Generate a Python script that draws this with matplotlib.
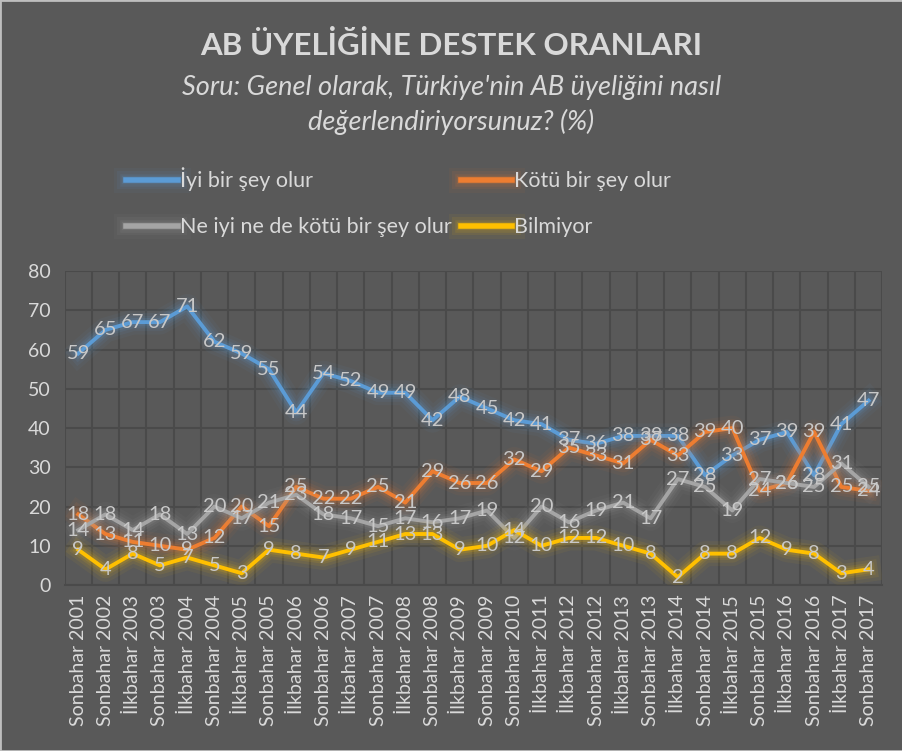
import matplotlib
matplotlib.use("Agg")
import matplotlib.pyplot as plt
import matplotlib.patheffects as pe
from matplotlib.patches import Rectangle

plt.rcParams['font.family'] = ['Lato', 'DejaVu Sans']

donemler = ["Sonbahar 2001", "Sonbahar 2002", "İlkbahar 2003", "Sonbahar 2003",
            "İlkbahar 2004", "Sonbahar 2004", "İlkbahar 2005", "Sonbahar 2005",
            "İlkbahar 2006", "Sonbahar 2006", "İlkbahar 2007", "Sonbahar 2007",
            "İlkbahar 2008", "Sonbahar 2008", "İlkbahar 2009", "Sonbahar 2009",
            "Sonbahar 2010", "İlkbahar 2011", "İlkbahar 2012", "Sonbahar 2012",
            "İlkbahar 2013", "Sonbahar 2013", "İlkbahar 2014", "Sonbahar 2014",
            "İlkbahar 2015", "Sonbahar 2015", "İlkbahar 2016", "Sonbahar 2016",
            "İlkbahar 2017", "Sonbahar 2017"]

iyi = [59, 65, 67, 67, 71, 62, 59, 55, 44, 54, 52, 49, 49, 42, 48, 45, 42, 41,
       37, 36, 38, 38, 38, 28, 33, 37, 39, 28, 41, 47]
kotu = [18, 13, 11, 10, 9, 12, 20, 15, 25, 22, 22, 25, 21, 29, 26, 26, 32, 29,
        35, 33, 31, 37, 33, 39, 40, 24, 26, 39, 25, 24]
ne_iyi_ne_kotu = [14, 18, 14, 18, 13, 20, 17, 21, 23, 18, 17, 15, 17, 16, 17, 19,
                  12, 20, 16, 19, 21, 17, 27, 25, 19, 27, 26, 25, 31, 25]
bilmiyor = [9, 4, 8, 5, 7, 5, 3, 9, 8, 7, 9, 11, 13, 13, 9, 10, 14, 10, 12, 12,
            10, 8, 2, 8, 8, 12, 9, 8, 3, 4]

seriler = [
    ("İyi bir şey olur", iyi, "#5b9bd5"),
    ("Kötü bir şey olur", kotu, "#ed7d31"),
    ("Ne iyi ne de kötü bir şey olur", ne_iyi_ne_kotu, "#a5a5a5"),
    ("Bilmiyor", bilmiyor, "#ffc000"),
]

bg = "#595959"
grid = "#4a4a4a"
yazi = "#d9d9d9"
etiket = "#c8c8c8"

fig = plt.figure(figsize=(9.03, 7.51), dpi=100, facecolor=bg)
ax = fig.add_axes([0.0715, 0.221, 0.9055, 0.418])
ax.set_facecolor(bg)

def parilti(renk):
    # yumusak isik efekti
    efekt = []
    for w, a in [(18, 0.05), (13, 0.08), (9, 0.1), (6, 0.15)]:
        efekt.append(pe.Stroke(linewidth=w, foreground=renk, alpha=a))
    efekt.append(pe.Normal())
    return efekt

x = list(range(len(donemler)))
cizgiler = []
for ad, veri, renk in seriler:
    l, = ax.plot(x, veri, color=renk, lw=2.8, label=ad, solid_joinstyle='round',
                 path_effects=parilti(renk), zorder=3)
    cizgiler.append(l)

for ad, veri, renk in seriler:
    for i, v in enumerate(veri):
        ax.text(i, v, str(v), ha='center', va='center', fontsize=14.5,
                color=etiket, zorder=5)

ax.set_xlim(-0.5, len(donemler) - 0.5)
ax.set_ylim(0, 80)
ax.set_yticks(range(0, 81, 10))
ax.set_xticks(x)
ax.set_xticklabels(donemler, rotation=90, fontsize=14, color=yazi)
ax.tick_params(axis='y', labelsize=14, colors=yazi, length=0, pad=10)
ax.tick_params(axis='x', length=0, pad=7, colors=yazi)
ax.set_xticks([i - 0.5 for i in range(len(donemler) + 1)], minor=True)
ax.tick_params(which='minor', length=0)
ax.grid(True, which='major', axis='y', color=grid, lw=1.5)
ax.grid(True, which='minor', axis='x', color=grid, lw=1.5)
ax.set_axisbelow(True)
for s in ['top', 'right', 'left']:
    ax.spines[s].set_visible(False)
ax.spines['bottom'].set_color(grid)
ax.spines['bottom'].set_linewidth(1.5)

fig.text(0.5, 0.94, "AB ÜYELİĞİNE DESTEK ORANLARI", ha='center', va='center',
         fontsize=22.5, fontweight='bold', color=yazi)
fig.text(0.5, 0.883, "Soru: Genel olarak, Türkiye'nin AB üyeliğini nasıl",
         ha='center', va='center', fontsize=19.5, style='italic', color=yazi)
fig.text(0.5, 0.838, "değerlendiriyorsunuz? (%)", ha='center', va='center',
         fontsize=19.5, style='italic', color=yazi)

# satir satir siralama: Excel gibi
sira = [0, 2, 1, 3]
leg = fig.legend([cizgiler[i] for i in sira], [seriler[i][0] for i in sira],
                 loc='upper left', bbox_to_anchor=(0.14, 0.777), ncol=2,
                 frameon=False, fontsize=15.5, labelcolor=yazi,
                 handlelength=2.4, handletextpad=0.1, columnspacing=0.4,
                 labelspacing=1.2, borderaxespad=0, borderpad=0)
for h in leg.get_lines():
    h.set_linewidth(4)

fig.patches.append(Rectangle((0, 0), 1, 1, transform=fig.transFigure,
                             fill=False, edgecolor="#bfbfbf", lw=2))

fig.savefig("out.png", dpi=100, facecolor=bg)
